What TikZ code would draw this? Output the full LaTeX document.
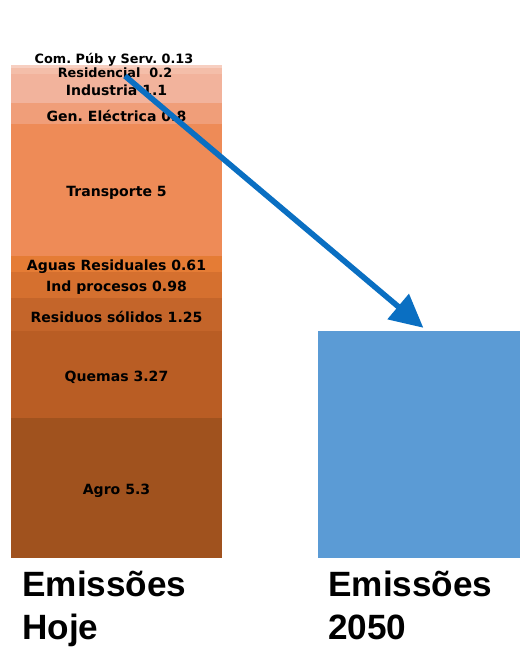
\documentclass[tikz,border=0pt]{standalone}
\usepackage{fontspec}
\setmainfont{DejaVu Sans}
\newfontfamily\arialfont{Liberation Sans}
\usetikzlibrary{arrows.meta,positioning}
\frenchspacing

\definecolor{cAgro}{HTML}{A0521E}
\definecolor{cQuemas}{HTML}{B95D24}
\definecolor{cResiduos}{HTML}{C4652A}
\definecolor{cIndproc}{HTML}{D5702F}
\definecolor{cAguas}{HTML}{E57C35}
\definecolor{cTransp}{HTML}{EE8B57}
\definecolor{cGen}{HTML}{F09E79}
\definecolor{cIndustria}{HTML}{F2B39C}
\definecolor{cResid}{HTML}{F4BEA9}
\definecolor{cCom}{HTML}{F7CFC1}
\definecolor{cBar}{HTML}{5B9BD5}
\definecolor{cArrow}{HTML}{0A6FC2}

\begin{document}
\begin{tikzpicture}[
    layerlabel/.style={font=\bfseries\fontsize{8}{9}\selectfont, inner sep=0pt, yshift=-0.05cm},
    smalllabel/.style={font=\bfseries\fontsize{7.3}{8}\selectfont, inner sep=0pt, yshift=-0.04cm},
    biglabel/.style={font=\arialfont\bfseries\fontsize{20}{24}\selectfont, anchor=base west, inner sep=0pt}
  ]
    \useasboundingbox (0,0) rectangle (10.4,12.96);

    % stacked bar (values from bottom, 1 unit = 0.529cm)
    \foreach \lo/\hi/\col/\txt [count=\i] in {
        0/5.3/cAgro/Agro 5.3,
        5.3/8.57/cQuemas/Quemas 3.27,
        8.57/9.82/cResiduos/Residuos sólidos 1.25,
        9.82/10.8/cIndproc/Ind procesos 0.98,
        10.8/11.41/cAguas/Aguas Residuales 0.61,
        11.41/16.41/cTransp/Transporte 5,
        16.41/17.21/cGen/Gen. Eléctrica 0.8,
        17.21/18.31/cIndustria/Industria 1.1,
        18.31/18.51/cResid/{}}
    {
      \fill[\col] (0.22,{1.8+\lo*0.529}) rectangle (4.44,{1.8+\hi*0.529});
      \node[layerlabel] (lay\i) at (2.33,{1.8+(\lo+\hi)*0.2645}) {\txt};
    }
    \fill[cCom] (0.22,{1.8+18.51*0.529}) rectangle (4.44,{1.8+18.64*0.529});
    \node[smalllabel] (resid) at (2.3,11.54) {Residencial\ \ 0.2};
    \node[smalllabel] (com) at (2.28,11.8) {Com. Púb y Serv. 0.13};

    % 2050 bar
    \node[fill=cBar, minimum width=4.04cm, minimum height=4.54cm, inner sep=0pt,
          anchor=south west] (blue) at (6.36,1.8) {};

    % arrow
    \coordinate (start) at (2.5,11.44);
    \draw[cArrow, line width=3.2pt, -{Triangle[length=0.66cm,width=0.64cm]}]
      (start) -- ([xshift=0.08cm,yshift=0.05cm]blue.north);

    % titles
    \node[biglabel] (hoje1) at (0.44,1.02) {Emissões};
    \node[biglabel] (hoje2) at (0.44,0.16) {Hoje};
    \node[biglabel] (fut1) at (6.56,1.02) {Emissões};
    \node[biglabel] (fut2) at (6.56,0.16) {2050};
\end{tikzpicture}
\end{document}
